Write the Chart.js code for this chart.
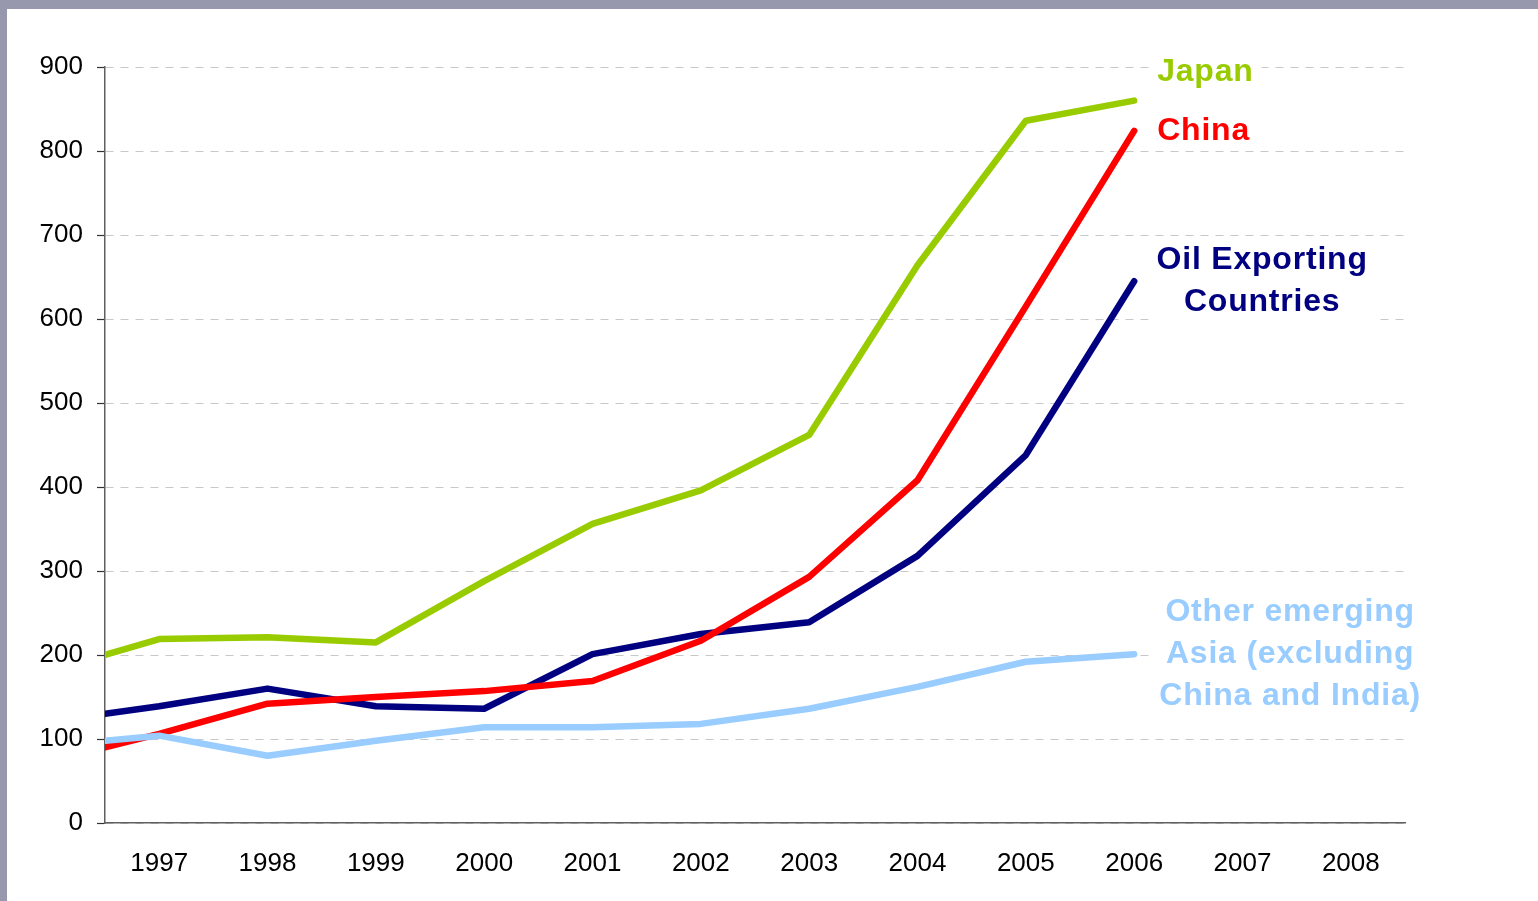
<!DOCTYPE html>
<html>
<head>
<meta charset="utf-8">
<script src="https://cdn.jsdelivr.net/npm/chart.js@4"></script>
<style>
  html, body { margin: 0; padding: 0; width: 1538px; height: 901px; overflow: hidden; background: #9797ae; }
  #panel { position: absolute; left: 7px; top: 9px; right: 0; bottom: 0; background: #fff; }
  #wrap { position: absolute; left: 0; top: 0; width: 1538px; height: 901px; }
</style>
</head>
<body>
<div id="panel"></div>
<div id="wrap"><canvas id="chart"></canvas></div>
<script>
// x positions of the points (first one sits on the axis edge)
const xs = [1996.5, 1997, 1998, 1999, 2000, 2001, 2002, 2003, 2004, 2005, 2006];
const yearTicks = [1997, 1998, 1999, 2000, 2001, 2002, 2003, 2004, 2005, 2006, 2007, 2008];
const valueTicks = [0, 100, 200, 300, 400, 500, 600, 700, 800, 900];

const japan = [200, 219, 221, 215, 288, 356, 396, 462, 664, 836, 860];
const china = [90, 106, 142, 150, 157, 169, 217, 293, 408, 615, 824];
const oilExporters = [130, 139, 160, 139, 136, 201, 225, 239, 318, 438, 645];
const otherAsia = [98, 104, 80, 98, 114, 114, 118, 136, 162, 192, 201];

const seriesNames = ['Japan', 'China', 'Oil Exporting Countries', 'Other emerging Asia (excluding China and India)'];
const seriesColors = ['#99cc00', '#ff0000', '#000080', '#99ccff'];

// text labels next to line ends
const endLabels = [
  { lines: ['Japan'], value: 894, align: 'left', dx: 23 },
  { lines: ['China'], value: 824, align: 'left', dx: 23 },
  { lines: ['Oil Exporting', 'Countries'], value: 645, align: 'center', dx: 128 },
  { lines: ['Other emerging', 'Asia (excluding', 'China and India)'], value: 201, align: 'center', dx: 156 }
];

const toPoints = arr => arr.map((v, i) => ({ x: xs[i], y: v }));

const endLabelPlugin = {
  id: 'endLabels',
  afterDatasetsDraw(chart) {
    const { ctx, scales: { x, y } } = chart;
    const lastX = x.getPixelForValue(xs[xs.length - 1]);
    const lineGap = 42;
    ctx.save();
    ctx.font = 'bold 32px "Liberation Sans", Arial, sans-serif';
    ctx.letterSpacing = '0.8px';
    ctx.textBaseline = 'middle';
    endLabels.forEach((lab, i) => {
      const cy = y.getPixelForValue(lab.value);
      const x0 = lastX + lab.dx;
      const n = lab.lines.length;
      const widths = lab.lines.map(t => ctx.measureText(t).width);
      const maxW = Math.max(...widths);
      const boxL = lab.align === 'left' ? x0 - 8 : x0 - maxW / 2 - 8;
      const top = cy - (n - 1) * lineGap / 2 - 20;
      ctx.fillStyle = '#fff';
      ctx.fillRect(boxL, top, maxW + 16, (n - 1) * lineGap + 40);
      ctx.fillStyle = seriesColors[i];
      ctx.textAlign = lab.align;
      lab.lines.forEach((t, k) => {
        ctx.fillText(t, x0, cy - (n - 1) * lineGap / 2 + k * lineGap);
      });
    });
    ctx.restore();
  }
};

const lineStyle = color => ({
  borderColor: color,
  backgroundColor: color,
  borderWidth: 6.5,
  pointRadius: 0,
  pointHoverRadius: 0,
  tension: 0,
  borderCapStyle: 'round',
  borderJoinStyle: 'round',
  fill: false
});

new Chart(document.getElementById('chart'), {
  type: 'line',
  data: {
    datasets: [
      { label: seriesNames[0], data: toPoints(japan), order: 4, ...lineStyle(seriesColors[0]) },
      { label: seriesNames[1], data: toPoints(china), order: 2, ...lineStyle(seriesColors[1]) },
      { label: seriesNames[2], data: toPoints(oilExporters), order: 3, ...lineStyle(seriesColors[2]) },
      { label: seriesNames[3], data: toPoints(otherAsia), order: 1, ...lineStyle(seriesColors[3]) }
    ]
  },
  options: {
    responsive: true,
    maintainAspectRatio: false,
    animation: false,
    layout: { padding: { left: 0, right: 133, top: 67, bottom: 0 } },
    plugins: { legend: { display: false }, tooltip: { enabled: false } },
    scales: {
      x: {
        type: 'linear',
        min: 1996.5,
        max: 2008.5,
        afterBuildTicks: s => { s.ticks = yearTicks.map(v => ({ value: v })); },
        afterFit: s => { s.height = 78; },
        grid: { display: false },
        border: { display: true, color: '#606060', width: 1.5 },
        ticks: {
          color: '#000',
          padding: 17,
          autoSkip: false,
          maxRotation: 0,
          font: { family: '"Liberation Sans", Arial, sans-serif', size: 26 },
          callback: v => String(v)
        }
      },
      y: {
        min: 0,
        max: 900,
        afterBuildTicks: s => { s.ticks = valueTicks.map(v => ({ value: v })); },
        afterFit: s => { s.width = 105; },
        grid: {
          color: '#c8c8c8',
          lineWidth: 1,
          tickLength: 8,
          tickColor: '#333',
          tickWidth: 1.2,
          tickBorderDash: []
        },
        border: { display: true, color: '#606060', width: 1.5, dash: [8, 7] },
        ticks: {
          color: '#000',
          padding: 14,
          font: { family: '"Liberation Sans", Arial, sans-serif', size: 26 }
        }
      }
    }
  },
  plugins: [endLabelPlugin]
});
</script>
</body>
</html>
